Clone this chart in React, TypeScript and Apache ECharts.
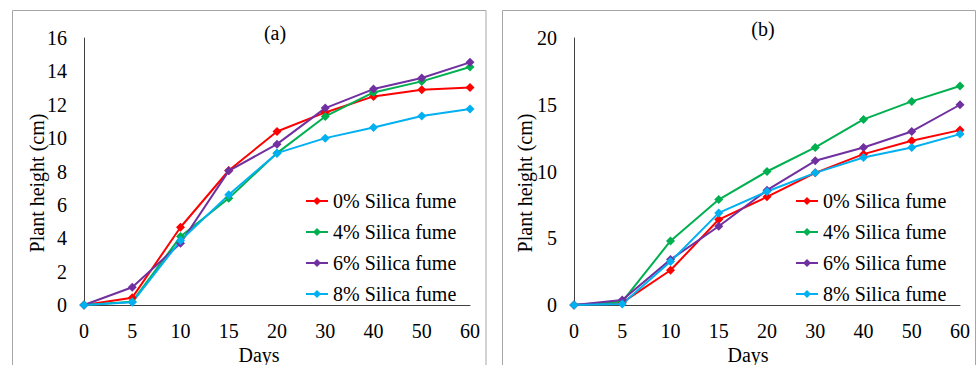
import React, { useEffect, useRef } from "react";
import * as echarts from "echarts";

const days = ["0", "5", "10", "15", "20", "30", "40", "50", "60"];
const seriesNames = ["0% Silica fume", "4% Silica fume", "6% Silica fume", "8% Silica fume"];
const colors = ["#FF0000", "#00B050", "#7030A0", "#00B0F0"];

// Panel (a)
const a0 = [0, 0.44, 4.66, 8.06, 10.4, 11.54, 12.5, 12.9, 13.04];
const a4 = [0, 0.2, 4.1, 6.4, 9.1, 11.3, 12.74, 13.4, 14.26];
const a6 = [0, 1.06, 3.7, 8.04, 9.64, 11.8, 12.94, 13.6, 14.54];
const a8 = [0, 0.16, 3.86, 6.6, 9.1, 10.0, 10.64, 11.32, 11.74];

// Panel (b)
const b0 = [0, 0.18, 2.6, 6.4, 8.1, 9.9, 11.3, 12.3, 13.1];
const b4 = [0, 0.25, 4.8, 7.9, 10.0, 11.8, 13.9, 15.25, 16.4];
const b6 = [0, 0.37, 3.4, 5.9, 8.6, 10.8, 11.8, 13.0, 15.0];
const b8 = [0, 0.08, 3.25, 6.9, 8.5, 9.9, 11.05, 11.8, 12.8];

const FONT = "Liberation Serif";

export default function App() {
  const ref = useRef<HTMLDivElement>(null);
  useEffect(() => {
    document.body.style.margin = "0";
    const chart = echarts.init(ref.current!, null, { renderer: "svg" });
    const aData = [a0, a4, a6, a8];
    const bData = [b0, b4, b6, b8];
    const mkSeries = (data: number[][], idx: number) =>
      data.map((d, i) => ({
        type: "line",
        name: seriesNames[i],
        xAxisIndex: idx,
        yAxisIndex: idx,
        data: d,
        symbol: "diamond",
        symbolSize: 9,
        lineStyle: { color: colors[i], width: 2 },
        itemStyle: { color: colors[i] },
      }));
    const xAxisBase = {
      type: "category",
      data: days,
      boundaryGap: false,
      axisLine: { lineStyle: { color: "#404040", width: 1 } },
      axisTick: { show: false },
      axisLabel: { color: "#000", fontSize: 20, fontFamily: FONT, margin: 16 },
      splitLine: { show: false },
    };
    const yAxisBase = {
      type: "value",
      min: 0,
      axisLine: { show: true, lineStyle: { color: "#404040", width: 1 } },
      axisTick: { show: false },
      axisLabel: { color: "#000", fontSize: 20, fontFamily: FONT, margin: 17 },
      splitLine: { show: false },
    };
    const legendBase = {
      data: seriesNames,
      orient: "vertical",
      itemWidth: 22,
      itemHeight: 10,
      itemGap: 11,
      padding: 0,
      textStyle: { color: "#000", fontSize: 20, fontFamily: FONT },
    };
    const txt = (text: string, x: number, y: number, rot = 0) => ({
      type: "text",
      x,
      y,
      rotation: rot,
      style: {
        text,
        fill: "#000",
        fontSize: 20,
        fontFamily: FONT,
        align: "center",
        verticalAlign: "middle",
      },
    });
    chart.setOption({
      animation: false,
      backgroundColor: "#fff",
      textStyle: { fontFamily: FONT },
      grid: [
        { left: 84, top: 38, right: 506, bottom: 60 },
        { left: 574, top: 38, right: 16, bottom: 60 },
      ],
      xAxis: [
        { ...xAxisBase, gridIndex: 0 },
        { ...xAxisBase, gridIndex: 1 },
      ],
      yAxis: [
        { ...yAxisBase, gridIndex: 0, max: 16, interval: 2 },
        { ...yAxisBase, gridIndex: 1, max: 20, interval: 5 },
      ],
      legend: [
        { ...legendBase, left: 305, top: 191 },
        { ...legendBase, left: 795, top: 191 },
      ],
      series: [...mkSeries(aData, 0), ...mkSeries(bData, 1)],
      graphic: [
        {
          type: "rect",
          shape: { x: 12.5, y: 10.5, width: 473.5, height: 370 },
          style: { fill: "none", stroke: "#a6a6a6", lineWidth: 1 },
          silent: true,
        },
        {
          type: "rect",
          shape: { x: 502.5, y: 10.5, width: 473, height: 370 },
          style: { fill: "none", stroke: "#a6a6a6", lineWidth: 1 },
          silent: true,
        },
        txt("(a)", 275, 33),
        txt("(b)", 763, 29),
        txt("Plant height (cm)", 37, 183, Math.PI / 2),
        txt("Plant height (cm)", 525, 183, Math.PI / 2),
        txt("Days", 259, 355),
        txt("Days", 748, 355),
      ],
    });
    return () => chart.dispose();
  }, []);
  return <div ref={ref} style={{ width: 976, height: 365 }} />;
}
